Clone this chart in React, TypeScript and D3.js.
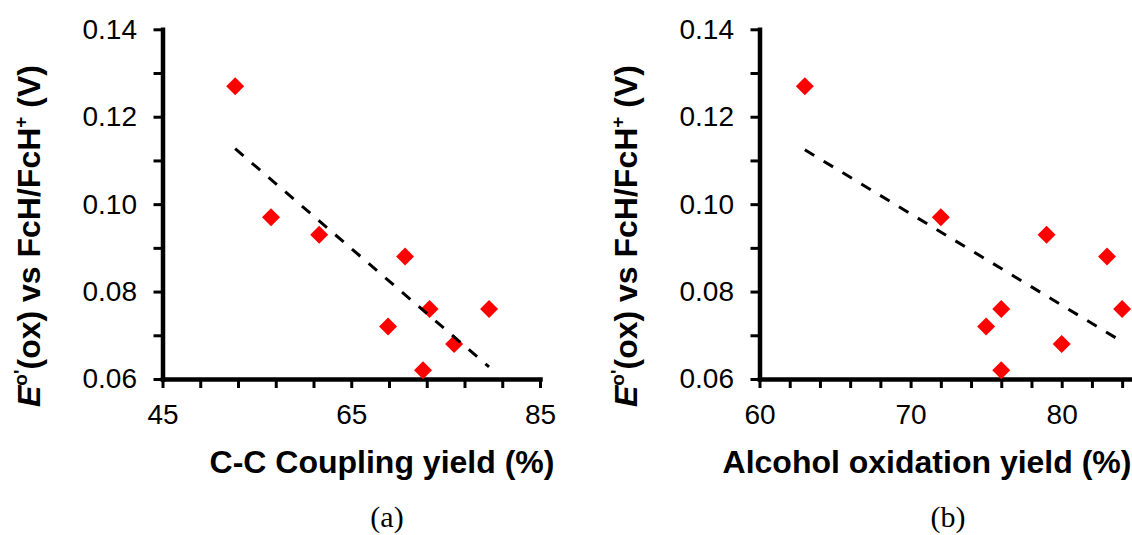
import { useEffect, useRef } from "react";
import * as d3 from "d3";

// E0'(ox) values shared by both panels (V vs FcH/FcH+)
const potential = [0.127, 0.097, 0.093, 0.088, 0.076, 0.072, 0.068, 0.076, 0.062];
// yields (%) for the same compounds
const couplingYield = [52.7, 56.5, 61.6, 70.7, 73.3, 68.9, 75.9, 79.6, 72.6];
const oxidationYield = [63, 72, 79, 83, 84, 75, 80, 76, 76];

const potentialTicks = [0.06, 0.07, 0.08, 0.09, 0.1, 0.11, 0.12, 0.13, 0.14];
const potentialLabels = [0.06, 0.08, 0.1, 0.12, 0.14];
const couplingTicks = [45, 49, 53, 57, 61, 65, 69, 73, 77, 81, 85];
const couplingLabels = [45, 65, 85];
const oxidationTicks = [60, 62, 64, 66, 68, 70, 72, 74, 76, 78, 80, 82, 84, 86, 88, 90];
const oxidationLabels = [60, 70, 80]; // 90 falls outside the cropped picture

const W = 1132;
const H = 535;
const FONT = "'Liberation Sans', Arial, Helvetica, sans-serif";

const App = () => {
    const svgRef = useRef(null);

    useEffect(() => {
        const svg = d3.select(svgRef.current);
        svg.selectAll("*").remove();

        const y = d3.scaleLinear().domain([0.06, 0.14]).range([379, 29.3]);

        const panels = [
            {
                xs: couplingYield, domain: [45, 85], range: [162.5, 540],
                ticks: couplingTicks, labels: couplingLabels,
                title: "C-C Coupling yield (%)", titleX: 382, tag: "(a)", tagX: 387, labelX: 40,
            },
            {
                xs: oxidationYield, domain: [60, 90], range: [759.5, 1212.8],
                ticks: oxidationTicks, labels: oxidationLabels,
                title: "Alcohol oxidation yield (%)", titleX: 927, tag: "(b)", tagX: 948, labelX: 637,
            },
        ];

        panels.forEach((p) => {
            const x = d3.scaleLinear().domain(p.domain).range(p.range);
            const g = svg.append("g");

            // y axis
            const yAxis = g.append("g")
                .attr("transform", `translate(${p.range[0]},0)`)
                .call(d3.axisLeft(y)
                    .tickValues(potentialTicks)
                    .tickSize(9)
                    .tickSizeOuter(0)
                    .tickPadding(16.5)
                    .tickFormat((d) => potentialLabels.some((v) => Math.abs(v - d) < 1e-9) ? d3.format(".2f")(d) : ""));

            // x axis
            const xAxis = g.append("g")
                .attr("transform", `translate(0,379)`)
                .call(d3.axisBottom(x)
                    .tickValues(p.ticks)
                    .tickSize(9)
                    .tickSizeOuter(0)
                    .tickPadding(16)
                    .tickFormat((d) => p.labels.includes(d) ? String(d) : ""));

            [yAxis, xAxis].forEach((a) => {
                a.attr("font-family", FONT).attr("font-size", 28);
                a.select(".domain").attr("stroke", "#000").attr("stroke-width", 4.5).attr("stroke-linecap", "square");
                a.selectAll(".tick line").attr("stroke", "#000").attr("stroke-width", 3);
                a.selectAll(".tick text").attr("fill", "#000");
            });

            // markers
            g.selectAll("path.pt")
                .data(p.xs)
                .join("path")
                .attr("class", "pt")
                .attr("d", d3.symbol(d3.symbolSquare, 162)())
                .attr("transform", (d, i) => `translate(${x(d)},${y(potential[i])}) rotate(45)`)
                .attr("fill", "#ff0000");

            // linear trend line
            const mx = d3.mean(p.xs);
            const my = d3.mean(potential);
            const slope = d3.sum(p.xs.map((v, i) => (v - mx) * (potential[i] - my))) /
                d3.sum(p.xs.map((v) => (v - mx) ** 2));
            const [x0, x1] = d3.extent(p.xs);
            const fit = (v) => my + slope * (v - mx);
            g.append("path")
                .attr("d", d3.line()([[x(x0), y(fit(x0))], [x(x1), y(fit(x1))]]))
                .attr("fill", "none")
                .attr("stroke", "#000")
                .attr("stroke-width", 3)
                .attr("stroke-dasharray", "11 11");

            // y axis title
            const t = g.append("text")
                .attr("transform", `translate(${p.labelX},236) rotate(-90)`)
                .attr("text-anchor", "middle")
                .attr("font-family", FONT)
                .attr("font-weight", "bold")
                .attr("font-size", 32);
            t.append("tspan").attr("font-style", "italic").text("E");
            t.append("tspan").attr("dy", -13).attr("font-size", 19).text("o'");
            t.append("tspan").attr("dy", 13).text("(ox) vs FcH/FcH");
            t.append("tspan").attr("dy", -13).attr("font-size", 19).text("+");
            t.append("tspan").attr("dy", 13).text(" (V)");

            // x axis title
            g.append("text")
                .attr("x", p.titleX)
                .attr("y", 473)
                .attr("text-anchor", "middle")
                .attr("font-family", FONT)
                .attr("font-weight", "bold")
                .attr("font-size", 32)
                .text(p.title);

            // panel tag
            g.append("text")
                .attr("x", p.tagX)
                .attr("y", 527)
                .attr("text-anchor", "middle")
                .attr("font-family", "'Liberation Serif', 'Times New Roman', serif")
                .attr("font-size", 30)
                .text(p.tag);
        });
    }, []);

    return (
        <div style={{ position: "absolute", left: 0, top: 0 }}>
            <svg ref={svgRef} width={W} height={H} style={{ display: "block", background: "#fff" }}></svg>
        </div>
    );
};

export default App;
